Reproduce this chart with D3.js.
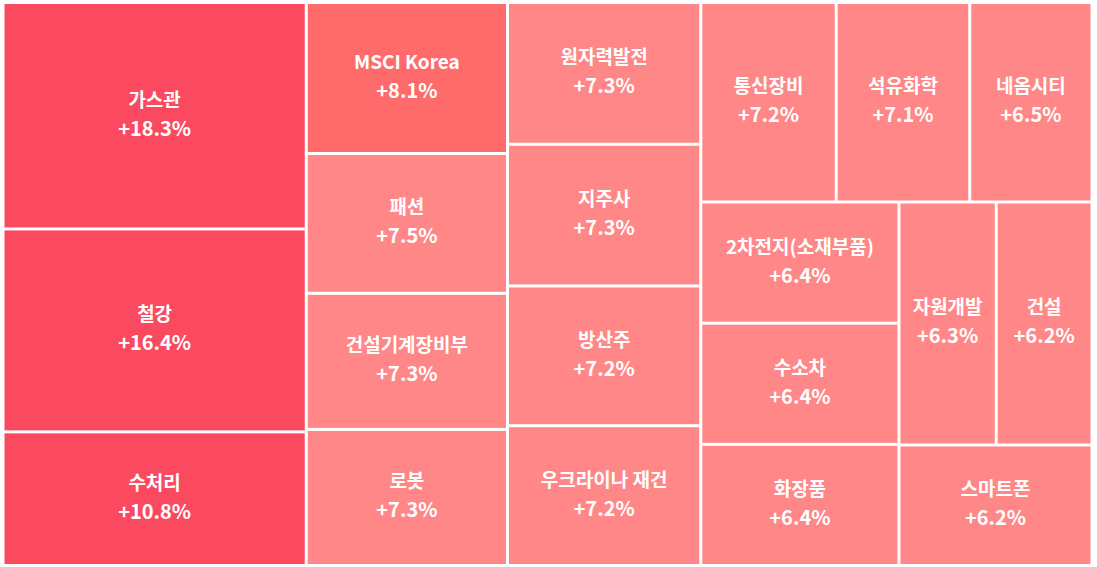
<!DOCTYPE html>
<html><head><meta charset="utf-8">
<script src="https://cdn.jsdelivr.net/npm/d3@7"></script>
<style>html,body{margin:0;padding:0;background:#fff;}svg{display:block;}</style>
</head><body>
<svg id="chart" width="1097" height="567"></svg>
<script>
const names = ["가스관","철강","수처리","MSCI Korea","패션","건설기계장비부","로봇","원자력발전","지주사","방산주","우크라이나 재건","통신장비","석유화학","네옴시티","2차전지(소재부품)","수소차","화장품","자원개발","건설","스마트폰"];
const values = [18.3,16.4,10.8,8.1,7.5,7.3,7.3,7.3,7.3,7.2,7.2,7.2,7.1,6.5,6.4,6.4,6.4,6.3,6.2,6.2];

const data = {name:"root", children: names.map((n,i)=>({name:n, value:values[i]}))};
const W = 1086, H = 560;
const root = d3.hierarchy(data).sum(d=>d.value);
d3.treemap().tile(d3.treemapSquarify).size([W,H]).paddingInner(3).round(false)(root);

const color = d3.scaleThreshold().domain([8,10]).range(["#ff8787","#ff6b6b","#fb4a5f"]);
const svg = d3.select("#chart");
const g = svg.append("g").attr("transform","translate(4.5,4)");
const leaf = g.selectAll("g").data(root.leaves()).join("g")
  .attr("transform",d=>`translate(${d.x0},${d.y0})`);
leaf.append("rect")
  .attr("width",d=>d.x1-d.x0).attr("height",d=>d.y1-d.y0)
  .attr("fill",d=>color(d.data.value));
const t = leaf.append("text")
  .attr("text-anchor","middle")
  .attr("fill","#fff")
  .style("font-family","'Noto Sans CJK KR','Noto Sans',sans-serif")
  .style("font-weight","700")
  .style("font-size","19px");
t.append("tspan").attr("x",d=>(d.x1-d.x0)/2).attr("y",d=>(d.y1-d.y0)/2-9)
  .text(d=>d.data.name);
t.append("tspan").attr("x",d=>(d.x1-d.x0)/2).attr("y",d=>(d.y1-d.y0)/2+20)
  .style("font-size","20px")
  .text(d=>"+"+d3.format(".1f")(d.data.value)+"%");
</script>
</body></html>
